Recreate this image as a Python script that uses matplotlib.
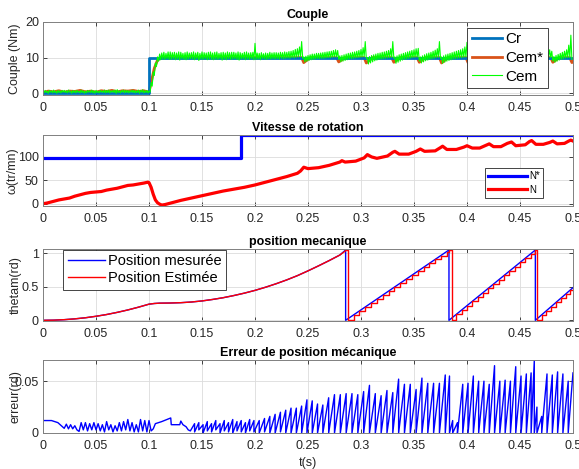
import numpy as np
import matplotlib
matplotlib.use("Agg")
import matplotlib.pyplot as plt
from matplotlib.ticker import FixedLocator, FixedFormatter

plt.rcParams['font.family'] = ['Liberation Sans', 'DejaVu Sans']

# ---------------- data ----------------
xticks = [0, 0.05, 0.1, 0.15, 0.2, 0.25, 0.3, 0.35, 0.4, 0.45, 0.5]
xtick_labels = ['0', '0.05', '0.1', '0.15', '0.2', '0.25', '0.3', '0.35', '0.4', '0.45', '0.5']

# Panel 1 : Couple
cr_t = [0, 0.1, 0.1, 0.5]
cr_v = [0, 0, 10, 10]

cs_t = [0, 0.005, 0.01, 0.015, 0.02, 0.025, 0.03, 0.035, 0.04, 0.045, 0.05, 0.055, 0.06,
        0.065, 0.07, 0.075, 0.08, 0.085, 0.09, 0.095, 0.1,
        0.102, 0.105, 0.108, 0.112,
        0.244, 0.246, 0.252, 0.277, 0.279, 0.285, 0.303, 0.305, 0.311, 0.329, 0.331, 0.337,
        0.353, 0.355, 0.361, 0.374, 0.376, 0.382, 0.399, 0.401, 0.407, 0.419, 0.421, 0.427,
        0.439, 0.441, 0.447, 0.459, 0.461, 0.467, 0.479, 0.481, 0.487, 0.497, 0.499, 0.5]
cs_v = [0.2, 0.6, 0.4, 0.7, 0.3, 0.6, 0.5, 0.8, 0.4, 0.6, 0.3, 0.7, 0.5,
        0.8, 0.4, 0.7, 0.6, 0.8, 0.5, 0.7, 0.3,
        3.0, 7.0, 9.3, 10.0,
        10, 8.6, 10, 10, 8.8, 10, 10, 8.5, 10, 10, 8.7, 10,
        10, 8.7, 10, 10, 8.5, 10, 10, 8.6, 10, 10, 8.7, 10,
        10, 8.7, 10, 10, 8.6, 10, 10, 8.7, 10, 10, 8.6, 9.0]

# Cem trace: upper and lower excursions of the fast ripple, one pair every cem_dt seconds
cem_dt = 0.002
cem_hi = [
    0.7, 0.8, 0.6, 0.8, 0.7, 0.9, 0.6, 0.8, 0.7, 0.8,
    0.8, 0.7, 0.9, 0.6, 0.8, 0.7, 0.8, 0.6, 0.9, 0.7,
    0.6, 0.8, 0.7, 0.9, 0.7, 0.8, 0.6, 0.8, 0.7, 0.9,
    0.8, 0.9, 0.7, 0.8, 0.9, 1.0, 0.7, 0.8, 0.9, 0.8,
    0.8, 0.7, 0.9, 0.8, 0.7, 0.9, 0.8, 1.0, 0.7, 0.8,
    0.6, 3.0, 6.0, 8.5, 10.2, 11.0, 11.3, 11.5, 11.2, 11.6,
    11.6, 11.4, 11.5, 11.3, 11.6, 11.5, 11.2, 11.4, 11.6, 11.3,
    11.4, 11.6, 11.3, 11.5, 11.2, 11.6, 11.4, 11.3, 11.5, 11.6,
    11.3, 11.5, 11.6, 11.2, 11.4, 11.5, 11.3, 11.6, 11.4, 11.5,
    11.5, 11.3, 11.6, 11.4, 11.2, 11.5, 11.6, 11.3, 11.4, 11.5,
    14.0, 11.3, 11.2, 11.4, 11.1, 11.3, 11.2, 11.5, 11.3, 11.4,
    11.4, 11.3, 11.5, 11.4, 11.6, 11.5, 11.7, 11.8, 12.0, 12.3,
    12.5, 13.0, 14.5, 10.2, 10.4, 10.6, 10.8, 11.0, 11.0, 11.2,
    11.2, 11.3, 11.4, 11.5, 11.6, 11.7, 11.8, 12.0, 12.2, 12.0,
    10.5, 10.6, 10.8, 11.0, 11.2, 11.3, 11.5, 11.6, 11.8, 12.0,
    12.3, 12.8, 14.5, 10.0, 10.3, 10.6, 10.8, 11.0, 11.2, 11.3,
    11.5, 11.6, 11.8, 12.0, 12.5, 14.5, 10.2, 10.5, 10.8, 11.0,
    11.2, 11.4, 11.6, 11.8, 12.0, 12.2, 12.5, 12.6, 10.2, 10.5,
    10.8, 11.1, 11.3, 11.5, 11.8, 12.1, 12.5, 14.5, 10.2, 10.5,
    10.8, 11.0, 11.2, 11.4, 11.6, 11.8, 12.0, 12.2, 12.5, 13.0,
    14.3, 10.2, 10.5, 10.8, 11.1, 11.3, 11.5, 11.7, 11.9, 12.3,
    13.5, 10.2, 10.5, 10.8, 11.1, 11.4, 11.6, 11.8, 12.0, 12.4,
    13.8, 10.3, 10.6, 10.9, 11.2, 11.4, 11.6, 11.8, 12.0, 12.4,
    13.6, 10.3, 10.6, 10.9, 11.2, 11.4, 11.6, 11.8, 12.0, 12.2,
    11.8, 10.3, 10.6, 10.9, 11.2, 11.5, 11.8, 12.2, 13.5, 16.3]
cem_lo = [
    0.1, 0.2, 0.0, 0.3, 0.1, 0.2, 0.0, 0.2, 0.1, 0.3,
    0.2, 0.1, 0.3, 0.0, 0.2, 0.1, 0.3, 0.1, 0.2, 0.0,
    0.1, 0.3, 0.2, 0.1, 0.0, 0.2, 0.1, 0.3, 0.2, 0.1,
    0.2, 0.1, 0.3, 0.2, 0.0, 0.2, 0.1, 0.3, 0.1, 0.2,
    0.1, 0.3, 0.2, 0.1, 0.2, 0.0, 0.3, 0.1, 0.2, 0.1,
    0.3, 2.0, 5.0, 7.5, 9.0, 9.4, 9.6, 9.5, 9.7, 9.5,
    9.5, 9.7, 9.4, 9.6, 9.3, 9.7, 9.5, 9.4, 9.6, 9.7,
    9.6, 9.4, 9.7, 9.2, 9.6, 9.5, 9.7, 9.4, 9.6, 9.5,
    9.4, 9.6, 9.5, 9.7, 9.3, 9.6, 9.4, 9.7, 9.5, 9.6,
    9.7, 9.5, 9.3, 9.6, 9.7, 9.4, 9.6, 9.5, 9.7, 9.4,
    9.5, 9.6, 9.4, 9.7, 9.6, 9.5, 9.7, 9.6, 9.7, 9.6,
    9.7, 9.6, 9.8, 9.7, 9.8, 9.9, 9.8, 10.0, 9.9, 10.1,
    10.2, 10.3, 9.8, 8.8, 9.0, 9.2, 9.4, 9.5, 9.6, 9.7,
    9.7, 9.8, 9.8, 9.9, 10.0, 10.0, 10.1, 10.2, 10.2, 9.5,
    8.8, 9.0, 9.2, 9.4, 9.6, 9.7, 9.8, 9.9, 10.0, 10.1,
    10.2, 10.3, 9.8, 8.2, 8.5, 8.8, 9.1, 9.3, 9.5, 9.6,
    9.7, 9.8, 9.9, 10.0, 10.1, 9.8, 8.4, 8.7, 9.0, 9.3,
    9.5, 9.6, 9.8, 9.9, 10.0, 10.1, 10.2, 9.0, 8.5, 8.8,
    9.1, 9.3, 9.5, 9.7, 9.8, 10.0, 10.1, 9.8, 8.4, 8.7,
    9.0, 9.2, 9.4, 9.6, 9.7, 9.8, 9.9, 10.0, 10.1, 10.2,
    9.6, 8.5, 8.8, 9.1, 9.4, 9.6, 9.8, 9.9, 10.0, 10.1,
    9.5, 8.6, 8.9, 9.2, 9.4, 9.6, 9.8, 9.9, 10.0, 10.1,
    9.5, 8.6, 8.9, 9.2, 9.4, 9.6, 9.8, 9.9, 10.0, 10.1,
    9.5, 8.7, 9.0, 9.2, 9.4, 9.6, 9.8, 9.9, 10.0, 10.1,
    9.0, 8.7, 9.0, 9.3, 9.5, 9.7, 9.9, 10.0, 10.0, 9.5]

# Panel 2 : Vitesse de rotation
nref_t = [0, 0.187, 0.187, 0.5]
nref_v = [97, 97, 146, 146]

n_t = [0, 0.003, 0.005, 0.01, 0.015, 0.02, 0.025, 0.03, 0.035, 0.04, 0.045, 0.05, 0.055,
       0.06, 0.065, 0.07, 0.075, 0.08, 0.085, 0.09, 0.095, 0.099, 0.1, 0.102, 0.104, 0.106,
       0.108, 0.11, 0.112, 0.115, 0.12, 0.13, 0.14, 0.15, 0.16, 0.17, 0.18, 0.19, 0.2, 0.21,
       0.22, 0.23, 0.24, 0.243, 0.246, 0.25, 0.26, 0.27, 0.28, 0.282, 0.285, 0.295, 0.303,
       0.306, 0.31, 0.315, 0.325, 0.33, 0.332, 0.336, 0.345, 0.352, 0.356, 0.36, 0.37, 0.375,
       0.377, 0.381, 0.39, 0.397, 0.4, 0.405, 0.412, 0.418, 0.421, 0.425, 0.432, 0.438, 0.442,
       0.446, 0.455, 0.459, 0.461, 0.465, 0.472, 0.478, 0.481, 0.485, 0.492, 0.496, 0.498, 0.5]
n_v = [0, 1, 2, 5, 8, 10, 12, 16, 19, 22, 24, 25, 26,
       29, 31, 33, 36, 39, 40, 42, 44, 46, 45, 35, 20, 8,
       2, -1, -3, -2, 1, 7, 12, 17, 22, 27, 31, 35, 40, 46,
       52, 58, 65, 70, 78, 75, 77, 82, 89, 92, 89, 91, 98,
       105, 100, 97, 102, 110, 112, 106, 106, 112, 117, 112, 113, 120,
       123, 116, 116, 121, 124, 119, 119, 125, 128, 122, 122, 129, 132,
       124, 126, 133, 135, 127, 127, 131, 134, 128, 129, 134, 136, 134]

# Panel 3 : position mecanique
th_t = [0, 0.01, 0.02, 0.03, 0.04, 0.05, 0.06, 0.07, 0.08, 0.09, 0.1, 0.105, 0.11, 0.115,
        0.12, 0.13, 0.14, 0.15, 0.16, 0.17, 0.18, 0.19, 0.2, 0.21, 0.22, 0.23, 0.24, 0.25,
        0.26, 0.27, 0.28, 0.2855, 0.2855, 0.383, 0.383, 0.4645, 0.4645, 0.5]
th_v = [0, 0.0024, 0.0096, 0.0216, 0.038, 0.06, 0.086, 0.118, 0.154, 0.195, 0.24, 0.25,
        0.255, 0.256, 0.257, 0.262, 0.272, 0.288, 0.31, 0.336, 0.368, 0.404, 0.445, 0.492,
        0.544, 0.601, 0.664, 0.735, 0.81, 0.888, 0.97, 1.045, 0, 1.045, 0, 1.045, 0, 0.485]

# estimated position: smooth start ...
the_t = [0, 0.01, 0.02, 0.03, 0.04, 0.05, 0.06, 0.07, 0.08, 0.09, 0.1, 0.105, 0.11, 0.115,
         0.12, 0.13, 0.14, 0.15, 0.16, 0.17, 0.18, 0.19, 0.2, 0.21, 0.22, 0.23, 0.24, 0.25,
         0.26, 0.27, 0.28, 0.2865]
the_v = [0, 0.0024, 0.0096, 0.0216, 0.038, 0.06, 0.086, 0.118, 0.154, 0.195, 0.24, 0.25,
         0.255, 0.256, 0.257, 0.262, 0.272, 0.288, 0.31, 0.336, 0.368, 0.404, 0.445, 0.492,
         0.544, 0.601, 0.664, 0.735, 0.81, 0.888, 0.97, 1.045]
# ... then sample-and-hold steps
hold_t = [0.2865, 0.2875, 0.293, 0.2985, 0.304, 0.3095, 0.315, 0.3205, 0.326, 0.3315, 0.337,
          0.3425, 0.348, 0.3535, 0.359, 0.3645, 0.37, 0.3755, 0.381, 0.383,
          0.3855, 0.390, 0.395, 0.400, 0.405, 0.410, 0.415, 0.420, 0.425, 0.430, 0.435,
          0.440, 0.445, 0.450, 0.455, 0.460, 0.4645,
          0.466, 0.4705, 0.475, 0.4795, 0.484, 0.4885, 0.493, 0.4975, 0.5]
hold_v = [1.045, 0.0, 0.080, 0.139, 0.198, 0.257, 0.316, 0.374, 0.433, 0.492, 0.551,
          0.610, 0.669, 0.728, 0.787, 0.845, 0.904, 0.963, 1.022, 1.045,
          0.0, 0.090, 0.154, 0.218, 0.282, 0.346, 0.411, 0.475, 0.539, 0.603, 0.667,
          0.731, 0.796, 0.860, 0.924, 0.988, 1.045,
          0.0, 0.082, 0.144, 0.205, 0.267, 0.329, 0.390, 0.452, 0.452]

# Panel 4 : Erreur de position
err_t = [0, 0.008, 0.014, 0.02, 0.022, 0.024, 0.026, 0.028, 0.030, 0.032, 0.034, 0.036,
         0.038, 0.040, 0.042, 0.044, 0.046, 0.048, 0.050, 0.052, 0.054, 0.056, 0.058, 0.060,
         0.062, 0.064, 0.066, 0.068, 0.070, 0.072, 0.074, 0.076, 0.078, 0.080, 0.082, 0.084,
         0.086, 0.088, 0.090, 0.092, 0.094, 0.096, 0.098, 0.100, 0.102, 0.104, 0.106, 0.112,
         0.118, 0.1205, 0.121, 0.129, 0.130, 0.132, 0.135, 0.137]
err_v = [0.012, 0.012, 0.010, 0.0045, 0.0085, 0.004, 0.008, 0.004, 0.007, 0.003, 0.0015,
         0.010, 0.003, 0.010, 0.002, 0.009, 0.003, 0.010, 0.003, 0.009, 0.002, 0.008, 0.001,
         0.011, 0.003, 0.008, 0.001, 0.007, 0.002, 0.010, 0.002, 0.011, 0.003, 0.013, 0.002,
         0.010, 0.001, 0.008, 0.001, 0.013, 0.002, 0.012, 0.001, 0.012, 0.002, 0.004, 0.009,
         0.011, 0.0135, 0.0145, 0.008, 0.008, 0.0115, 0.008, 0.006, 0.003]

# sawtooth teeth after 0.139 s: start time, base value, peak value
tooth_t = [0.139, 0.143, 0.147, 0.151, 0.155, 0.159, 0.163, 0.167, 0.171, 0.175, 0.179,
           0.183, 0.187, 0.191, 0.195, 0.199, 0.204, 0.209, 0.214, 0.219, 0.224, 0.229,
           0.234, 0.239, 0.244, 0.249, 0.254, 0.259, 0.264, 0.2695, 0.275, 0.2805, 0.286,
           0.2915, 0.297, 0.3025, 0.308, 0.3135, 0.319, 0.3245, 0.33, 0.3355, 0.341,
           0.3465, 0.352, 0.3575, 0.363, 0.3685, 0.374, 0.3795, 0.3835, 0.3865, 0.391,
           0.396, 0.401, 0.406, 0.411, 0.416, 0.421, 0.426, 0.431, 0.436, 0.441, 0.446,
           0.451, 0.456, 0.4605, 0.4635, 0.466, 0.4705, 0.4755, 0.4805, 0.4855, 0.4905,
           0.4955]
tooth_base = [0.002, 0.001, 0.003, 0.0, 0.002, 0.001, 0.003, 0.0, 0.002, 0.001, 0.0,
              0.002, 0.001, 0.0, 0.002, 0.001, 0.0, 0.001, 0.0, 0.0, 0.001, 0.0,
              0.0, 0.0, 0.0, 0.0, 0.0, 0.0, 0.0, 0.0, 0.0, 0.0, 0.0,
              0.0, 0.0, 0.0, 0.0, 0.0, 0.0, 0.0, 0.0, 0.0, 0.0,
              0.0, 0.0, 0.0, 0.0, 0.0, 0.0, 0.0, 0.0, 0.0, 0.0,
              0.0, 0.0, 0.0, 0.0, 0.0, 0.0, 0.0, 0.0, 0.0, 0.0, 0.0,
              0.0, 0.0, 0.0, 0.0, 0.0, 0.0, 0.0, 0.0, 0.0, 0.0,
              0.0]
tooth_peak = [0.009, 0.010, 0.008, 0.011, 0.009, 0.012, 0.009, 0.012, 0.010, 0.013, 0.011,
              0.012, 0.010, 0.013, 0.012, 0.012, 0.014, 0.016, 0.018, 0.020, 0.022, 0.024,
              0.024, 0.026, 0.032, 0.031, 0.028, 0.027, 0.034, 0.037, 0.037, 0.038, 0.038,
              0.037, 0.040, 0.046, 0.038, 0.036, 0.041, 0.039, 0.052, 0.047, 0.047,
              0.042, 0.053, 0.048, 0.048, 0.048, 0.056, 0.055, 0.012, 0.010, 0.047,
              0.048, 0.055, 0.050, 0.050, 0.047, 0.065, 0.050, 0.051, 0.050, 0.064, 0.055,
              0.057, 0.058, 0.070, 0.025, 0.016, 0.057, 0.056, 0.059, 0.057, 0.050,
              0.058]

# ---------------- figure ----------------
fig = plt.figure(figsize=(5.79, 4.69), dpi=100)
L, W = 0.0743, 0.9153
axes_pos = [(L, 0.7974, W, 0.1557), (L, 0.5608, W, 0.1514),
            (L, 0.3156, W, 0.1535), (L, 0.0768, W, 0.1557)]
axs = [fig.add_axes(p) for p in axes_pos]

txt_col = '#262626'
frame_col = '#808080'


def style(ax, yt, ylab, title, labx=-0.041):
    ax.set_xlim(0, 0.5)
    ax.xaxis.set_major_locator(FixedLocator(xticks))
    ax.xaxis.set_major_formatter(FixedFormatter(xtick_labels))
    ax.set_yticks(yt)
    ax.tick_params(direction='in', length=3, width=0.6, colors=txt_col, labelsize=9,
                   top=True, right=True, pad=3)
    ax.tick_params(axis='x', pad=5)
    for s in ax.spines.values():
        s.set_color(frame_col)
        s.set_linewidth(0.7)
    ax.grid(True, color='#dcdcdc', linewidth=0.6)
    ax.set_axisbelow(True)
    ax.set_ylabel(ylab, fontsize=9, color=txt_col)
    ax.yaxis.set_label_coords(labx, 0.5)
    ax.set_title(title, fontsize=9, fontweight='bold', color='black', pad=3)


def legend(ax, handles, anchor, fs, hl, ls, bp):
    lg = ax.legend(handles=handles, loc='upper left', bbox_to_anchor=anchor,
                   borderaxespad=0, fontsize=fs, handlelength=hl, handletextpad=0.2,
                   labelspacing=ls, borderpad=bp, fancybox=False, framealpha=1,
                   edgecolor=txt_col)
    lg.get_frame().set_linewidth(0.6)


# Panel 1
ax = axs[0]
cem_t, cem_y = [], []
for i in range(len(cem_hi)):
    cem_t += [i * cem_dt, i * cem_dt + cem_dt / 2]
    cem_y += [cem_hi[i], cem_lo[i]]
h_cs, = ax.plot(cs_t, cs_v, color='#D95319', lw=2.0, label='Cem*')
h_cr, = ax.plot(cr_t, cr_v, color='#0072BD', lw=2.0, label='Cr')
h_cem, = ax.plot(cem_t, cem_y, color='#00FF00', lw=0.8, label='Cem')
ax.set_ylim(-0.5, 20)
style(ax, [0, 10, 20], 'Couple (Nm)', 'Couple')
legend(ax, [h_cr, h_cs, h_cem], (0.80, 0.92), 11, 2.0, 0.3, 0.3)

# Panel 2
ax = axs[1]
h1, = ax.plot(nref_t, nref_v, color='#0000FF', lw=2.3, label='N*')
h2, = ax.plot(n_t, n_v, color='#FF0000', lw=2.3, label='N')
ax.set_ylim(-5, 147)
style(ax, [0, 50, 100], 'ω(tr/mn)', 'Vitesse de rotation', labx=-0.046)
legend(ax, [h1, h2], (0.834, 0.535), 7, 4.0, 0.35, 0.35)

# Panel 3
ax = axs[2]
h1, = ax.plot(th_t, th_v, color='#0000FF', lw=1.0, label='Position mesurée')
h2, = ax.plot(the_t, the_v, color='#FF0000', lw=1.0, label='Position Estimée')
ax.step(hold_t, hold_v, where='post', color='#FF0000', lw=1.0)
ax.set_ylim(-0.01, 1.06)
style(ax, [0, 0.5, 1], 'thetam(rd)', 'position mecanique')
ax.yaxis.set_major_formatter(FixedFormatter(['0', '0.5', '1']))
legend(ax, [h1, h2], (0.038, 0.986), 10.5, 2.6, 0.2, 0.3)

# Panel 4
ax = axs[3]
ex = list(err_t)
ey = list(err_v)
for i in range(len(tooth_t)):
    ex.append(tooth_t[i])
    ey.append(tooth_base[i])
    ex.append(tooth_t[i + 1] if i + 1 < len(tooth_t) else 0.5)
    ey.append(tooth_peak[i])
ax.plot(ex, ey, color='#0000FF', lw=1.0)
ax.set_ylim(0, 0.0705)
style(ax, [0, 0.05], 'erreur(rd)', 'Erreur de position mécanique')
ax.yaxis.set_major_formatter(FixedFormatter(['0', '0.05']))
ax.set_xlabel('t(s)', fontsize=9, color=txt_col, labelpad=4)

fig.savefig('out.png', dpi=100)
